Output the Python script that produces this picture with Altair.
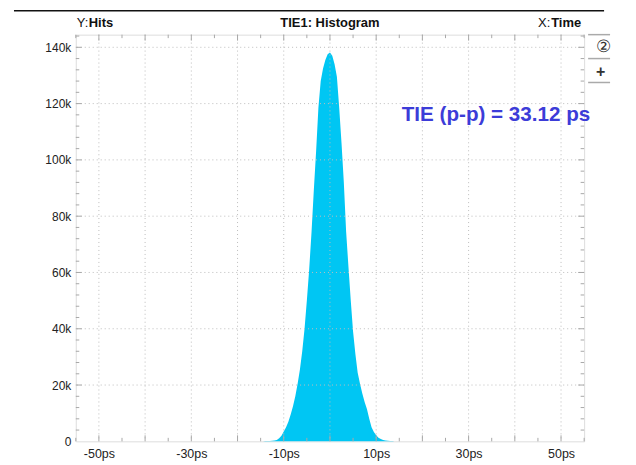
import altair as alt
import pandas as pd

# Histogram (time in ps, hits in thousands)
time_ps = [-16.0, -15.5, -15.0, -14.5, -14.0, -13.5, -13.0, -12.5, -12.0, -11.5,
           -11.0, -10.5, -10.0, -9.5, -9.0, -8.5, -8.0, -7.5, -7.0, -6.5,
           -6.0, -5.5, -5.0, -4.5, -4.0, -3.5, -3.0, -2.5, -2.0, -1.5,
           -1.0, -0.5, 0.0, 0.5, 1.0, 1.5, 2.0, 2.5, 3.0, 3.5,
           4.0, 4.5, 5.0, 5.5, 6.0, 6.5, 7.0, 7.5, 8.0, 8.5,
           9.0, 9.5, 10.0, 10.5, 11.0, 11.5, 12.0, 12.5, 13.0, 13.5,
           14.0, 14.5, 15.0, 15.5]
hits_k = [0.01, 0.02, 0.04, 0.05, 0.08, 0.1, 0.15, 0.2, 0.3, 0.5,
          1.1, 2.0, 3.5, 5.0, 7.0, 9.5, 12.5, 16.0, 20.5, 25.5,
          32.0, 40.0, 50.0, 61.0, 74.0, 89.0, 103.0, 118.5, 128.0, 132.5,
          135.5, 137.5, 138.2, 137.0, 134.0, 129.5, 118.5, 106.0, 92.0, 74.5,
          62.0, 50.0, 39.0, 31.0, 24.4, 20.5, 17.0, 14.0, 11.5, 8.0,
          5.0, 3.3, 2.2, 1.3, 0.8, 0.5, 0.3, 0.2, 0.12, 0.08,
          0.05, 0.04, 0.03, 0.01]

x_labels = [-50, -30, -10, 10, 30, 50]
x_grid = [-50, -40, -30, -20, -10, 0, 10, 20, 30, 40, 50]
x_minor = [-55, -45, -35, -25, -15, -5, 5, 15, 25, 35, 45, 55]
y_labels = [0, 20, 40, 60, 80, 100, 120, 140]
y_grid = [20, 40, 60, 80, 100, 120, 140]
y_minor = [4, 8, 12, 16, 24, 28, 32, 36, 44, 48, 52, 56, 64, 68, 72, 76,
           84, 88, 92, 96, 104, 108, 112, 116, 124, 128, 132, 136, 144]

title_text = "TIE1: Histogram"
annotation = "TIE (p-p) = 33.12 ps"

W, H = 510, 408
FONT = "Liberation Sans"
GRID = "#bdbdbd"
TICK = "#a8a8a8"

xs = alt.Scale(domain=[-55, 55], nice=False, zero=False)
ys = alt.Scale(domain=[0, 144.5], nice=False, zero=False)

X_AX = alt.Axis(values=x_labels, labelExpr="datum.value + 'ps'", ticks=False,
                domain=False, grid=False, labelPadding=6, labelFontSize=12.5,
                labelFont=FONT, labelColor="#222", title=None)
Y_AX = alt.Axis(values=y_labels, labelExpr="datum.value == 0 ? '0' : datum.value + 'k'",
                ticks=False, domain=False, grid=False, labelPadding=5,
                labelFontSize=12, labelFont=FONT, labelColor="#222", title=None)

hist = pd.DataFrame({"t": time_ps, "h": hits_k})
xg = pd.DataFrame({"x": x_grid})
xm = pd.DataFrame({"x": x_minor})
yg = pd.DataFrame({"y": y_grid})
ym = pd.DataFrame({"y": y_minor})

area = alt.Chart(hist).mark_area(color="#00c6f3", interpolate="linear").encode(
    x=alt.X("t:Q", scale=xs, axis=X_AX),
    y=alt.Y("h:Q", scale=ys, axis=Y_AX),
)

grid_x = alt.Chart(xg).mark_rule(color=GRID, strokeDash=[1, 3], strokeWidth=1).encode(
    x=alt.X("x:Q", scale=xs, axis=X_AX))
grid_y = alt.Chart(yg).mark_rule(color=GRID, strokeDash=[1, 3], strokeWidth=1).encode(
    y=alt.Y("y:Q", scale=ys, axis=Y_AX))


def xticks(df, y0, y1):
    return alt.Chart(df).mark_rule(color=TICK, strokeWidth=1).encode(
        x=alt.X("x:Q", scale=xs, axis=X_AX), y=alt.value(y0), y2=alt.value(y1))


def yticks(df, x0, x1):
    return alt.Chart(df).mark_rule(color=TICK, strokeWidth=1).encode(
        y=alt.Y("y:Q", scale=ys, axis=Y_AX), x=alt.value(x0), x2=alt.value(x1))


ticks = [
    xticks(xg, H, H - 6), xticks(xm, H, H - 3.5),
    xticks(xg, 0, 6), xticks(xm, 0, 3.5),
    yticks(yg, 0, 6), yticks(ym, 0, 3.5),
    yticks(yg, W, W - 6), yticks(ym, W, W - 3.5),
]

one = pd.DataFrame({"k": [0]})


def label(text, x, y, size=13, weight="normal", align="left", color="#111", baseline="middle"):
    return alt.Chart(pd.DataFrame({"s": [text]})).mark_text(
        font=FONT, fontSize=size, fontWeight=weight, align=align, baseline=baseline,
        color=color).encode(text="s:N", x=alt.value(x), y=alt.value(y))


texts = [
    label("Y:", 1, -12),
    label("Hits", 13, -12, weight="bold"),
    label(title_text, W / 2, -12, weight="bold", align="center"),
    label("Time", 507, -12, weight="bold", align="right"),
    label("X:", 476, -12, align="right"),
    label(annotation, 327, 81, size=20.7, weight="bold", color="#3c3cd8"),
    label("②", 522, 12, size=17, color="#333"),
    label("+", 522, 37, size=16, weight="bold", color="#333"),
]

deco = [
    alt.Chart(one).mark_rule(color="#111", strokeWidth=1.5).encode(
        x=alt.value(-62), x2=alt.value(530), y=alt.value(-24)),
    alt.Chart(one).mark_rule(color="#aaa", strokeWidth=1.5).encode(
        x=alt.value(514), x2=alt.value(536), y=alt.value(0)),
    alt.Chart(one).mark_rule(color="#aaa", strokeWidth=1.5).encode(
        x=alt.value(514), x2=alt.value(536), y=alt.value(24)),
    alt.Chart(one).mark_rule(color="#aaa", strokeWidth=1.5).encode(
        x=alt.value(514), x2=alt.value(536), y=alt.value(48)),
]

chart = alt.layer(area, grid_x, grid_y, *ticks, *texts, *deco).properties(
    width=W, height=H,
    autosize=alt.AutoSizeParams(type="none"),
    padding={"left": 68, "top": 26, "right": 44, "bottom": 20},
).configure_view(stroke="#c8c8c8", strokeWidth=1.5).configure(background="white")

chart.save("out.html", embed_options={"renderer": "svg", "actions": False})
